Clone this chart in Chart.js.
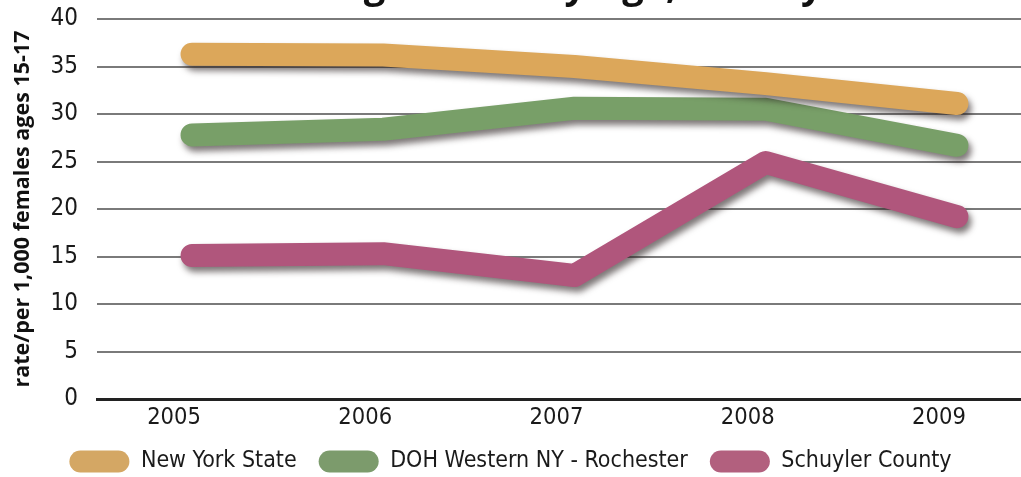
<!DOCTYPE html>
<html>
<head>
<meta charset="utf-8">
<script src="https://cdn.jsdelivr.net/npm/chart.js@4.4.1/dist/chart.umd.min.js"></script>
<style>
  html, body { margin: 0; padding: 0; background: #fff; overflow: hidden; }
  #wrap { width: 1021px; height: 477px; overflow: hidden; position: relative; }
  #teenChart { position: absolute; left: 0; top: -36px; }
</style>
</head>
<body>
<div id="wrap">
  <canvas id="teenChart" width="1021" height="519"></canvas>
</div>
<script>
// data
const years = [2005, 2006, 2007, 2008, 2009];
const newYorkState = [36.3, 36.2, 35.0, 33.2, 31.1];
const westernNY = [27.8, 28.4, 30.6, 30.5, 26.7];
const schuyler = [15.1, 15.3, 13.0, 24.9, 19.2];
const yTicks = [0, 5, 10, 15, 20, 25, 30, 35, 40];

const seriesNames = ['New York State', 'DOH Western NY - Rochester', 'Schuyler County'];
const lineColors = ['#DCA75A', '#789F68', '#B0567C'];
const swatchColors = ['#D4A764', '#7C9B6C', '#B2607E'];

const narrow = "'Liberation Sans Narrow', 'DejaVu Sans Condensed', sans-serif";

// drop shadow under the thick lines
const lineShadow = {
    id: 'lineShadow',
    beforeDatasetDraw(chart) {
        const ctx = chart.ctx;
        ctx.save();
        ctx.shadowColor = 'rgba(40,30,30,0.6)';
        ctx.shadowBlur = 6;
        ctx.shadowOffsetX = 3;
        ctx.shadowOffsetY = 5;
    },
    afterDatasetDraw(chart) {
        chart.ctx.restore();
    }
};

const points = vals => years.map((x, i) => ({ x: x, y: vals[i] }));

const ctx = document.getElementById('teenChart');
new Chart(ctx, {
    type: 'line',
    data: {
        datasets: [newYorkState, westernNY, schuyler].map((vals, i) => ({
            label: seriesNames[i],
            data: points(vals),
            borderColor: lineColors[i],
            backgroundColor: swatchColors[i],
            borderWidth: 23,
            borderCapStyle: 'round',
            borderJoinStyle: 'round',
            pointRadius: 0,
            tension: 0,
            fill: false
        }))
    },
    plugins: [lineShadow],
    options: {
        responsive: false,
        animation: false,
        devicePixelRatio: 1,
        layout: { padding: 0 },
        scales: {
            x: {
                type: 'linear',
                min: 2004.503,
                max: 2009.335,
                afterBuildTicks: scale => { scale.ticks = years.map(v => ({ value: v })); },
                afterFit: scale => { scale.height = 29; },
                grid: { display: false, drawTicks: false },
                border: { display: true, color: '#222', width: 3 },
                ticks: {
                    padding: 5,
                    labelOffset: -18,
                    color: '#1a1a1a',
                    font: { family: narrow, size: 23.5 },
                    callback: v => String(v)
                }
            },
            y: {
                min: 0,
                max: 40,
                afterBuildTicks: scale => { scale.ticks = yTicks.map(v => ({ value: v })); },
                afterFit: scale => { scale.width = 97; },
                grid: {
                    drawTicks: false,
                    color: c => c.tick.value === 0 ? '#222' : '#7a7a7a',
                    lineWidth: c => c.tick.value === 0 ? 3 : 2
                },
                border: { display: false },
                ticks: {
                    padding: 19,
                    color: '#1a1a1a',
                    font: { family: narrow, size: 24 }
                },
                title: {
                    display: true,
                    text: 'rate/per 1,000 females ages 15-17',
                    color: '#111',
                    font: { family: "'Open Sans', sans-serif", size: 21.5, weight: 'bold' },
                    padding: { top: 10, bottom: 0 }
                }
            }
        },
        plugins: {
            title: {
                display: true,
                text: 'Teen Pregnancies by Age, County',
                color: '#111',
                font: { family: "'Open Sans', sans-serif", size: 38, weight: 'bold' },
                padding: { top: 0, bottom: 9.4 }
            },
            legend: {
                position: 'bottom',
                labels: {
                    boxWidth: 60,
                    boxHeight: 22,
                    useBorderRadius: true,
                    borderRadius: 11,
                    padding: 22,
                    color: '#1a1a1a',
                    font: { family: narrow, size: 23 },
                    generateLabels: chart => Chart.defaults.plugins.legend.labels.generateLabels(chart)
                        .map(l => ({ ...l, lineWidth: 0, fillStyle: swatchColors[l.datasetIndex] }))
                }
            },
            tooltip: { enabled: false }
        }
    }
});
</script>
</body>
</html>
